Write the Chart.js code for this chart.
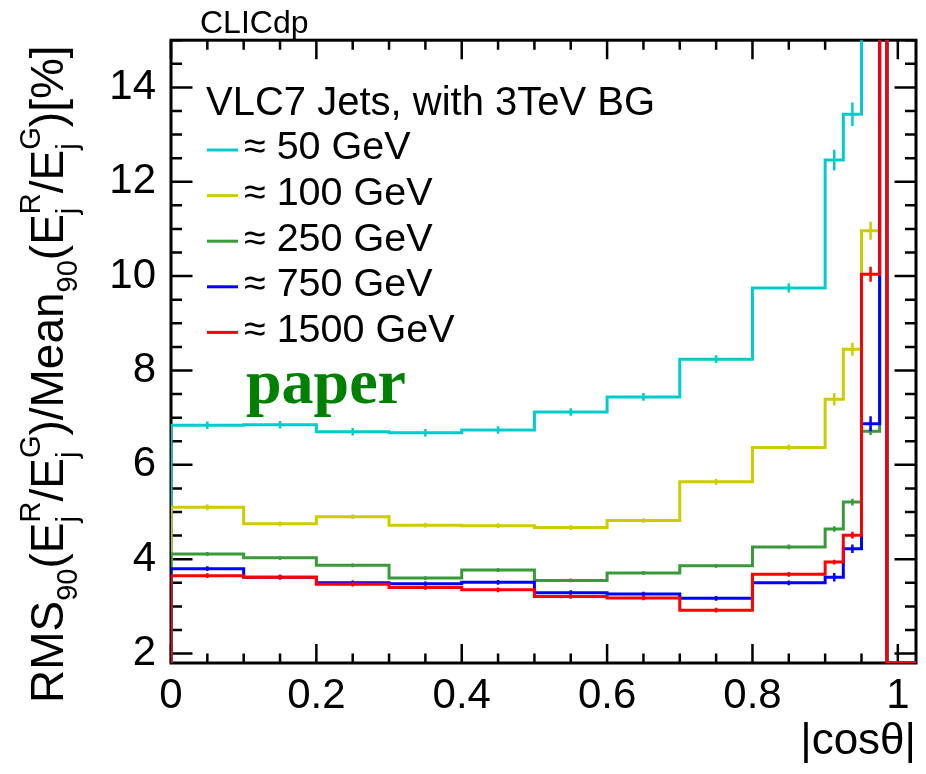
<!DOCTYPE html>
<html>
<head>
<meta charset="utf-8">
<script src="https://cdn.jsdelivr.net/npm/chart.js@4.4.1/dist/chart.umd.min.js"></script>
<style>
html,body{margin:0;padding:0;background:#fff}
#wrap{width:926px;height:774px;position:relative}
</style>
</head>
<body>
<div id="wrap"><canvas id="c"></canvas></div>
<script>
// bin edges in |cos theta| (last two bins are off-scale: above top / below bottom)
const binEdges = [0,0.1,0.2,0.3,0.4,0.5,0.6,0.7,0.8,0.9,0.925,0.95,0.975,0.985,1.025];

const seriesLabels = ['\u2248 50 GeV','\u2248 100 GeV','\u2248 250 GeV','\u2248 750 GeV','\u2248 1500 GeV'];
const seriesColors = ['#00cccc','#cccc00','#3a9a3a','#0000ff','#ff0000'];

// RMS90/Mean90 [%] per bin
const res50   = [6.84,6.85,6.70,6.68,6.74,7.12,7.44,8.24,9.75,12.46,13.43,16.5,25,0];
const res100  = [5.10,4.75,4.90,4.72,4.71,4.67,4.82,5.64,6.37,7.39,8.45,10.96,25,0];
const res250  = [4.11,4.03,3.87,3.60,3.77,3.55,3.71,3.86,4.26,4.64,5.21,6.71,25,0];
const res750  = [3.80,3.62,3.50,3.48,3.51,3.29,3.26,3.17,3.50,3.62,4.22,6.87,25,0];
const res1500 = [3.65,3.62,3.47,3.40,3.35,3.21,3.18,2.92,3.68,3.94,4.51,10.04,25,0];

// statistical errors per bin
const err50   = [0.08,0.08,0.08,0.08,0.08,0.08,0.08,0.08,0.1,0.22,0.25,null,null,null];
const err100  = [0.06,0.05,0.05,0.05,0.05,0.05,0.05,0.06,0.06,0.13,0.14,0.19,null,null];
const err250  = [0.04,0.04,0.04,0.04,0.04,0.04,0.04,0.04,0.05,0.06,0.07,0.08,null,null];
const err750  = [0.05,0.05,0.05,0.05,0.05,0.05,0.05,0.05,0.05,0.09,0.09,0.16,null,null];
const err1500 = [0.05,0.05,0.05,0.05,0.05,0.05,0.05,0.05,0.05,0.05,0.07,0.16,null,null];

const allRes = [res50,res100,res250,res750,res1500];
const allErr = [err50,err100,err250,err750,err1500];

const xTicks = [0,0.2,0.4,0.6,0.8,1];
const yTicks = [2,4,6,8,10,12,14];
const xMinorStep = 0.05, yMinorStep = 0.5;
const xMin = 0, xMax = 1.025, yMin = 1.8, yMax = 15;

const FONT = "'Liberation Sans', Arial, Helvetica, sans-serif";
Chart.defaults.font.family = FONT;
Chart.defaults.color = '#000';

// ROOT-like histogram outline: starts from the axis minimum at the first edge
function histPoints(vals){
  const pts = [{x:binEdges[0], y:yMin}];
  vals.forEach((v,i)=>pts.push({x:binEdges[i], y:Math.max(v,yMin)}));
  pts.push({x:binEdges[binEdges.length-1], y:Math.max(vals[vals.length-1],yMin)});
  return pts;
}

const datasets = allRes.map((vals,i)=>({
  label: seriesLabels[i],
  data: histPoints(vals),
  borderColor: seriesColors[i],
  borderWidth: 3,
  stepped: 'before',
  pointRadius: 0,
  fill: false,
  order: allRes.length - i
}));

const yTitleParts = [
  {n:'RMS'},{sub:'90'},{n:'('},{n:'E'},{sup:'R',sub:'j'},{n:'/'},{n:'E'},{sup:'G',sub:'j'},{n:')'},
  {n:'/Mean'},{sub:'90'},{n:'('},{n:'E'},{sup:'R',sub:'j'},{n:'/'},{n:'E'},{sup:'G',sub:'j'},{n:')'},{n:'[%]'}
];

const rootStyle = {
  id:'rootStyle',
  beforeDatasetsDraw(chart){
    const {ctx, chartArea:a, scales:{x,y}} = chart;
    ctx.save();
    ctx.strokeStyle = '#000';
    ctx.lineWidth = 3;
    ctx.strokeRect(a.left, a.top, a.right-a.left, a.bottom-a.top);
    ctx.lineWidth = 2.5;
    ctx.beginPath();
    for(let i=0;;i++){
      const v = xMin + i*xMinorStep;
      if(v > xMax + 1e-9) break;
      const major = xTicks.some(t=>Math.abs(t-v)<1e-6);
      const len = major ? 19 : 9.5;
      const px = x.getPixelForValue(v);
      ctx.moveTo(px,a.bottom); ctx.lineTo(px,a.bottom-len);
      ctx.moveTo(px,a.top); ctx.lineTo(px,a.top+len);
    }
    for(let i=0;;i++){
      const v = yTicks[0] + i*yMinorStep;
      if(v > yMax + 1e-9) break;
      const major = yTicks.some(t=>Math.abs(t-v)<1e-6);
      const len = major ? 21.5 : 11;
      const py = y.getPixelForValue(v);
      ctx.moveTo(a.left,py); ctx.lineTo(a.left+len,py);
      ctx.moveTo(a.right,py); ctx.lineTo(a.right-len,py);
    }
    ctx.stroke();
    ctx.restore();
  },
  afterDatasetsDraw(chart){
    const {ctx, chartArea:a, scales:{x,y}} = chart;
    ctx.save();
    ctx.beginPath();
    ctx.rect(a.left-2, a.top, a.right-a.left+4, a.bottom-a.top);
    ctx.clip();
    ctx.lineWidth = 2.5;
    allRes.forEach((vals,s)=>{
      ctx.strokeStyle = seriesColors[s];
      ctx.beginPath();
      vals.forEach((v,b)=>{
        const e = allErr[s][b];
        if(e==null) return;
        const cx = x.getPixelForValue((binEdges[b]+binEdges[b+1])/2);
        ctx.moveTo(cx, y.getPixelForValue(v-e));
        ctx.lineTo(cx, y.getPixelForValue(v+e));
      });
      ctx.stroke();
    });
    ctx.restore();
  },
  afterDraw(chart){
    const {ctx} = chart;
    ctx.save();
    ctx.fillStyle = '#000';
    ctx.textBaseline = 'alphabetic';
    ctx.textAlign = 'left';
    // top label
    ctx.font = '32px ' + FONT;
    ctx.fillText('CLICdp', 200, 33);
    // legend
    ctx.font = '40px ' + FONT;
    ctx.fillText('VLC7 Jets, with 3TeV BG', 206, 115);
    ctx.font = '39.5px ' + FONT;
    seriesLabels.forEach((lab,i)=>{
      const ly = 150 + i*45.6;
      ctx.strokeStyle = seriesColors[i];
      ctx.lineWidth = 3;
      ctx.beginPath(); ctx.moveTo(207,ly); ctx.lineTo(238,ly); ctx.stroke();
      ctx.fillStyle = '#000';
      ctx.fillText(lab, 244, 159.3 + i*45.6);
    });
    // paper tag
    ctx.font = "bold 64px 'Liberation Serif', 'Times New Roman', serif";
    ctx.fillStyle = '#008000';
    ctx.fillText('paper', 246, 403);
    // y axis title with sub/superscripts
    ctx.fillStyle = '#000';
    ctx.translate(63, 703);
    ctx.rotate(-Math.PI/2);
    const big = '46px ' + FONT, small = '29px ' + FONT;
    let cx = 0;
    yTitleParts.forEach(p=>{
      if(p.n){
        ctx.font = big; ctx.fillText(p.n, cx, 0); cx += ctx.measureText(p.n).width;
      } else {
        ctx.font = small; let w = 0;
        if(p.sup){ ctx.fillText(p.sup, cx, -23); w = Math.max(w, ctx.measureText(p.sup).width); }
        if(p.sub){ ctx.fillText(p.sub, cx, 14); w = Math.max(w, ctx.measureText(p.sub).width); }
        cx += w;
      }
    });
    ctx.restore();
  }
};

new Chart(document.getElementById('c'), {
  type:'line',
  data:{datasets},
  options:{
    responsive:true,
    maintainAspectRatio:false,
    animation:false,
    devicePixelRatio:1,
    layout:{padding:{top:40,right:10,left:0,bottom:0}},
    plugins:{legend:{display:false},tooltip:{enabled:false}},
    scales:{
      x:{
        type:'linear', min:xMin, max:xMax,
        afterBuildTicks:s=>{ s.ticks = xTicks.map(v=>({value:v})); },
        afterFit:s=>{ s.height = 111; },
        grid:{display:false, drawTicks:false},
        border:{display:false},
        ticks:{font:{size:42}, padding:8, maxRotation:0, autoSkip:false, callback:v=>String(v)},
        title:{display:true, text:'|cos\u03b8|', align:'end', font:{size:44}, padding:{top:0,bottom:6}}
      },
      y:{
        type:'linear', min:yMin, max:yMax,
        afterBuildTicks:s=>{ s.ticks = yTicks.map(v=>({value:v})); },
        afterFit:s=>{ s.width = 171; },
        grid:{display:false, drawTicks:false},
        border:{display:false},
        ticks:{font:{size:42}, padding:15, autoSkip:false, callback:v=>String(v)}
      }
    }
  },
  plugins:[rootStyle]
});
</script>
</body>
</html>
